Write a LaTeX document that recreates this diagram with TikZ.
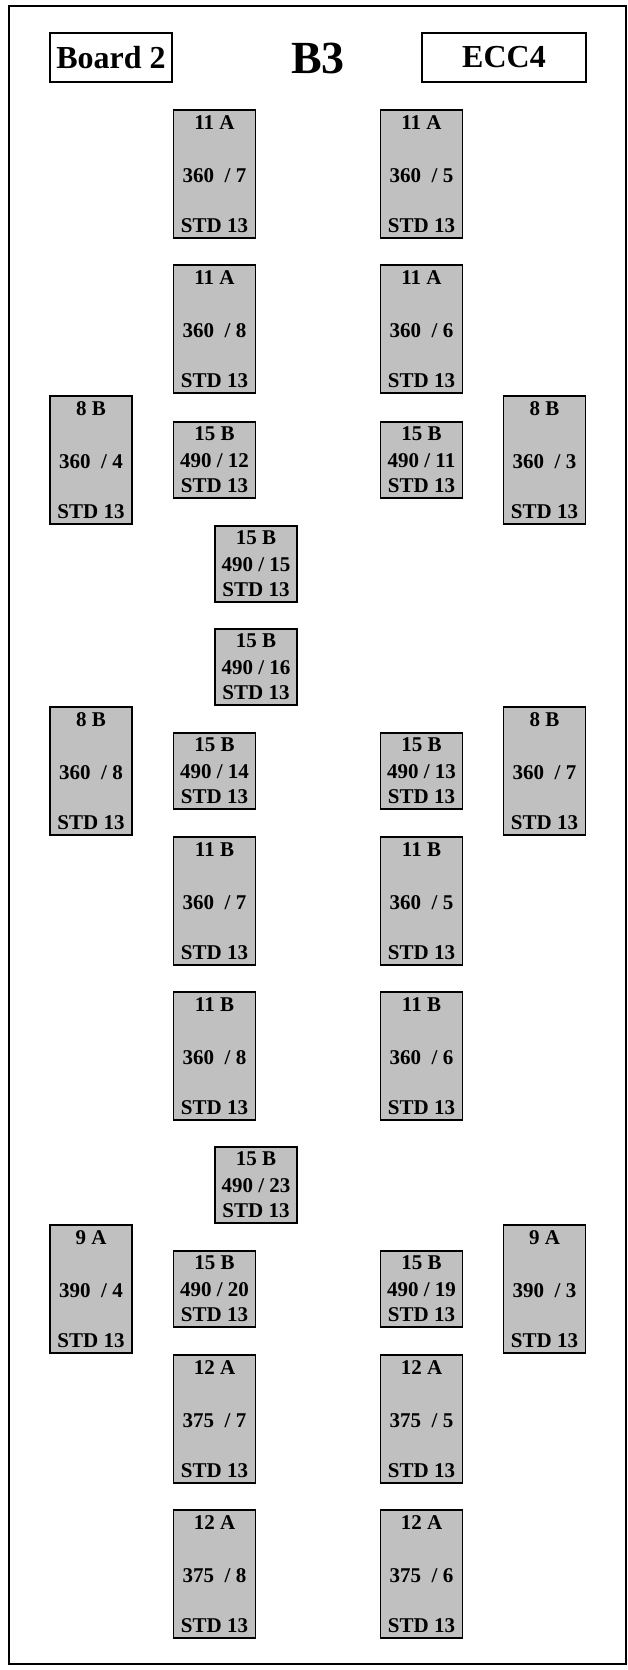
\documentclass[tikz,border=0pt]{standalone}
\usepackage{fontspec}
\setmainfont{Liberation Serif}
\usepackage{tikz}
\usetikzlibrary{shapes,positioning}
\definecolor{slotgray}{RGB}{192,192,192}
\tikzstyle{slot} = [rectangle, draw, line width=1.7pt, fill=slotgray,
minimum width=82pt, align=center, inner sep=0pt,
font=\bfseries\fontsize{21}{24}\selectfont]
\tikzstyle{tallslot} = [slot, minimum height=128pt]
\tikzstyle{shortslot} = [slot, minimum height=76pt]
\tikzstyle{tagbox} = [rectangle, draw, line width=2.2pt, minimum height=49pt,
inner sep=0pt, font=\bfseries\fontsize{32}{38}\selectfont]
\newcommand{\ttext}[2]{#1\\[29pt]#2\\[26pt]STD 13}
\newcommand{\stext}[2]{#1\\[3pt]#2\\[1pt]STD 13}

\begin{document}
\begin{tikzpicture}[x=1pt, y=1pt, node distance=155pt]
\useasboundingbox (0,0) rectangle (628,-1670);
\draw [line width=2pt] (9,-6) rectangle (626,-1664);

% Header
\node [tagbox, minimum width=122pt] (board) at (111,-57.5) {Board 2};
\node [font=\bfseries\fontsize{46}{50}\selectfont] (title) at (318,-58) {B3};
\node [tagbox, minimum width=164pt] (ecc) at (504,-57.5) {ECC4};

% Left inner column
\node [tallslot] (li1) at (214.5,-174) {\ttext{11 A}{360\ \ / 7}};
\node [tallslot, below of=li1] (li2) {\ttext{11 A}{360\ \ / 8}};
\node [shortslot, below of=li2, node distance=131pt] (li3) {\stext{15 B}{490 / 12}};
\node [shortslot, below of=li3, node distance=311pt] (li4) {\stext{15 B}{490 / 14}};
\node [tallslot, below of=li4, node distance=130pt] (li5) {\ttext{11 B}{360\ \ / 7}};
\node [tallslot, below of=li5] (li6) {\ttext{11 B}{360\ \ / 8}};
\node [shortslot, below of=li6, node distance=233pt] (li7) {\stext{15 B}{490 / 20}};
\node [tallslot, below of=li7, node distance=130pt] (li8) {\ttext{12 A}{375\ \ / 7}};
\node [tallslot, below of=li8] (li9) {\ttext{12 A}{375\ \ / 8}};

% Right inner column
\node [tallslot, right of=li1, node distance=207pt] (ri1) {\ttext{11 A}{360\ \ / 5}};
\node [tallslot, right of=li2, node distance=207pt] (ri2) {\ttext{11 A}{360\ \ / 6}};
\node [shortslot, right of=li3, node distance=207pt] (ri3) {\stext{15 B}{490 / 11}};
\node [shortslot, right of=li4, node distance=207pt] (ri4) {\stext{15 B}{490 / 13}};
\node [tallslot, right of=li5, node distance=207pt] (ri5) {\ttext{11 B}{360\ \ / 5}};
\node [tallslot, right of=li6, node distance=207pt] (ri6) {\ttext{11 B}{360\ \ / 6}};
\node [shortslot, right of=li7, node distance=207pt] (ri7) {\stext{15 B}{490 / 19}};
\node [tallslot, right of=li8, node distance=207pt] (ri8) {\ttext{12 A}{375\ \ / 5}};
\node [tallslot, right of=li9, node distance=207pt] (ri9) {\ttext{12 A}{375\ \ / 6}};

% Outer columns
\node [tallslot, left of=li3, node distance=123.5pt] (lo1) {\ttext{8 B}{360\ \ / 4}};
\node [tallslot, left of=li4, node distance=123.5pt] (lo2) {\ttext{8 B}{360\ \ / 8}};
\node [tallslot, left of=li7, node distance=123.5pt] (lo3) {\ttext{9 A}{390\ \ / 4}};
\node [tallslot, right of=ri3, node distance=123pt] (ro1) {\ttext{8 B}{360\ \ / 3}};
\node [tallslot, right of=ri4, node distance=123pt] (ro2) {\ttext{8 B}{360\ \ / 7}};
\node [tallslot, right of=ri7, node distance=123pt] (ro3) {\ttext{9 A}{390\ \ / 3}};

% Middle column
\node [shortslot] (mid1) at (256,-564) {\stext{15 B}{490 / 15}};
\node [shortslot, below of=mid1, node distance=103pt] (mid2) {\stext{15 B}{490 / 16}};
\node [shortslot, below of=mid2, node distance=518pt] (mid3) {\stext{15 B}{490 / 23}};
\end{tikzpicture}
\end{document}
